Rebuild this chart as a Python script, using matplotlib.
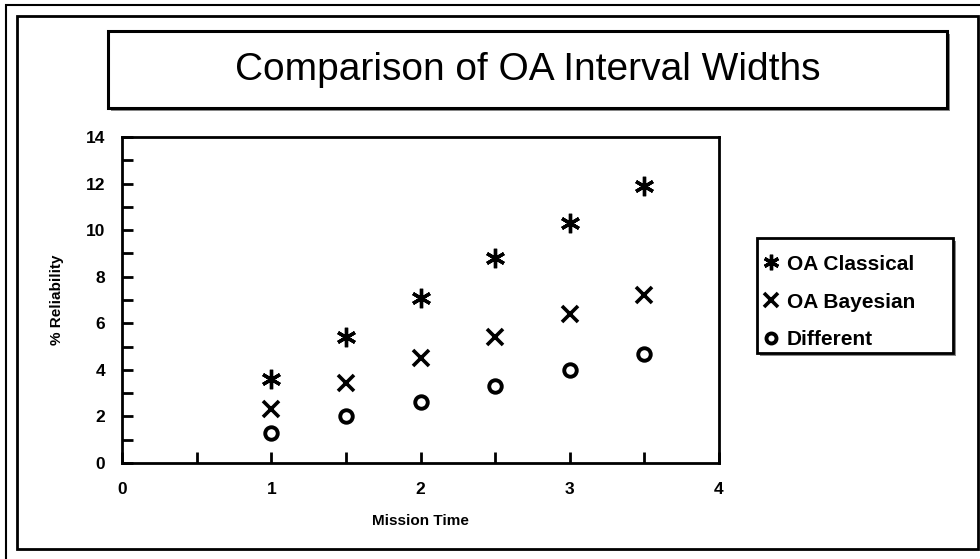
import matplotlib
matplotlib.use('Agg')
import matplotlib.pyplot as plt
from matplotlib.patches import Rectangle
from matplotlib.ticker import MultipleLocator

plt.rcParams['font.family'] = ['Liberation Sans', 'DejaVu Sans']

# values
mission_time = [1.0, 1.5, 2.0, 2.5, 3.0, 3.5]
oa_classical = [3.6, 5.4, 7.1, 8.8, 10.3, 11.9]
oa_bayesian = [2.3, 3.45, 4.5, 5.4, 6.4, 7.2]
different = [1.3, 2.0, 2.6, 3.3, 4.0, 4.7]
series_names = ['OA Classical', 'OA Bayesian', 'Different']

W, H = 980, 559
fig = plt.figure(figsize=(W / 100, H / 100), dpi=100)


def px_rect(x0, y0, x1, y1, **kw):
    # rectangle given in pixel coords (top-left origin) -> figure fraction
    return Rectangle((x0 / W, 1 - y1 / H), (x1 - x0) / W, (y1 - y0) / H,
                     transform=fig.transFigure, **kw)


# outer frames
fig.patches.append(px_rect(6, 5, 990, 570, fill=False, ec='black', lw=1.5))
fig.patches.append(px_rect(17, 16, 978, 549, fill=False, ec='black', lw=2))

# title box with shadow
fig.patches.append(px_rect(111, 34, 950, 111, fc='#8a8a8a', ec='none', zorder=-2))
fig.patches.append(px_rect(108, 31, 947, 108, fc='white', ec='black', lw=2.2, zorder=-1))
fig.text((108 + 947) / 2 / W, 1 - 70 / H, 'Comparison of OA Interval Widths',
         ha='center', va='center', fontsize=28)

# plot area
ax = fig.add_axes([122 / W, 1 - 463 / H, (719 - 122) / W, (463 - 137) / H])
ax.plot(mission_time, oa_classical, ls='none', marker=(6, 2, 0), ms=14,
        mew=2.4, color='black', label=series_names[0])
ax.plot(mission_time, oa_bayesian, ls='none', marker='x', ms=12,
        mew=2.6, color='black', label=series_names[1])
ax.plot(mission_time, different, ls='none', marker='o', ms=9,
        mew=2.8, mfc='white', mec='black', label=series_names[2])

ax.set_xlim(0, 4)
ax.set_ylim(0, 14)
ax.xaxis.set_major_locator(MultipleLocator(1))
ax.xaxis.set_minor_locator(MultipleLocator(0.5))
ax.yaxis.set_major_locator(MultipleLocator(2))
ax.yaxis.set_minor_locator(MultipleLocator(1))
ax.tick_params(which='both', direction='in', length=8, width=2)
ax.tick_params(axis='x', pad=14)
ax.tick_params(axis='y', pad=12)
for lab in ax.get_xticklabels() + ax.get_yticklabels():
    lab.set_fontweight('bold')
    lab.set_fontsize(12.5)
for s in ax.spines.values():
    s.set_linewidth(2)

ax.set_xlabel('Mission Time', fontsize=11, fontweight='bold', labelpad=12)
ax.set_ylabel('% Reliability', fontsize=11, fontweight='bold', labelpad=16)

# legend box with shadow
fig.patches.append(px_rect(760, 241, 956, 356, fc='#8a8a8a', ec='none', zorder=-2))
fig.patches.append(px_rect(757, 238, 953, 353, fc='white', ec='black', lw=2, zorder=-1))
handles, labels = ax.get_legend_handles_labels()
leg = fig.legend(handles, labels, loc='center left',
                 bbox_to_anchor=(762 / W, 1 - 302 / H),
                 frameon=False, prop={'weight': 'bold', 'size': 15},
                 labelspacing=0.9, handlelength=0.9, handletextpad=0.3,
                 borderpad=0.0, borderaxespad=0.0, markerscale=0.8)

fig.savefig('out.png', dpi=100)
